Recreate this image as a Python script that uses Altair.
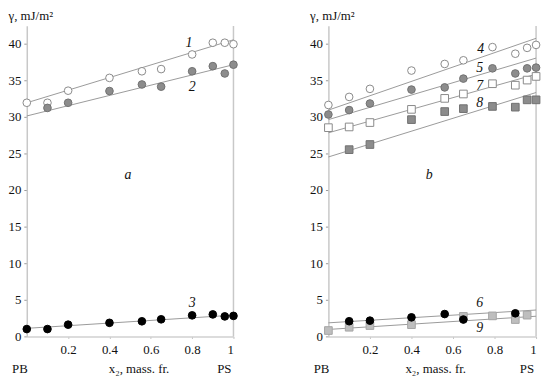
import altair as alt
import pandas as pd

# ---------------- data ----------------
xa = [0.0, 0.1, 0.2, 0.4, 0.557, 0.65, 0.8, 0.9, 0.958, 1.0]
s1 = [31.9, 31.9, 33.55, 35.3, 36.2, 36.5, 38.5, 40.1, 40.1, 39.9]
s2 = [None, 31.2, 31.9, 33.5, 34.4, 34.1, 36.2, 36.9, 35.9, 37.1]
s3 = [1.0, 1.0, 1.6, 1.85, 2.06, 2.33, 2.87, 3.0, 2.73, 2.8]

xb = [0.0, 0.1, 0.2, 0.4, 0.56, 0.65, 0.79, 0.9, 0.957, 1.0]
s4 = [31.6, 32.7, 33.8, 36.3, 37.2, 37.7, 39.5, 38.6, 39.4, 39.8]
s5 = [30.3, 30.9, 31.8, 33.7, 34.0, 35.2, 36.6, 35.9, 36.6, 36.7]
s7 = [28.5, 28.6, 29.2, 31.0, 32.5, 33.1, 34.5, 34.3, 35.0, 35.5]
s8 = [None, 25.5, 26.2, 29.6, 30.7, 31.1, 31.4, 31.3, 32.3, 32.3]
s6 = [None, 2.07, 2.15, 2.6, 3.05, 2.3, None, 3.15, None, None]
s9 = [0.8, 1.25, 1.48, 1.6, None, 2.73, 2.8, 2.3, 2.9, None]

# fitted straight lines: value at x2 = 0 and at x2 = 1
line_x = [0.0, 1.0]
l1 = [31.9, 40.5]
l2 = [30.1, 37.1]
l3 = [1.1, 2.9]
l4 = [30.9, 40.7]
l5 = [29.6, 38.0]
l7 = [27.8, 35.8]
l8 = [24.5, 33.3]
l6 = [1.85, 3.6]
l9 = [0.95, 2.75]

# curve numbers and panel letters: (text, x2, gamma)
labels_a = [("1", 0.785, 40.1), ("2", 0.80, 34.0), ("3", 0.80, 4.5), ("a", 0.49, 22.0)]
labels_b = [("4", 0.733, 39.2), ("5", 0.729, 36.6), ("7", 0.729, 34.2),
            ("8", 0.729, 31.9), ("6", 0.729, 4.5), ("9", 0.729, 1.2), ("b", 0.486, 22.0)]

x_ticks = [0.2, 0.4, 0.6, 0.8, 1.0]
y_ticks = [0, 5, 10, 15, 20, 25, 30, 35, 40]

FONT = "Liberation Serif"
FS = 13
W, H = 209, 314
YMAX = 42.4

LINE_COLOR = "#9a9a9a"


def pts(xs, ys):
    return pd.DataFrame([{"x": a, "y": b} for a, b in zip(xs, ys) if b is not None])


def xscale():
    return alt.Scale(domain=[0, 1], nice=False, zero=False)


def yscale():
    return alt.Scale(domain=[0, YMAX], nice=False)


def xaxis(title_x):
    return alt.Axis(values=x_ticks, format="~g", grid=False, title="x₂, mass. fr.",
                    titleFont=FONT, titleFontSize=FS, titleFontWeight="normal",
                    titleColor="#111", titleX=title_x, titleY=37,
                    titleBaseline="alphabetic", titleAnchor="start", titleAlign="center",
                    labelFont=FONT, labelFontSize=FS, labelColor="#111",
                    labelPadding=5, tickSize=2, tickColor="#bbb", labelOverlap=False,
                    domainColor="#d0d0d0", domainWidth=1.5)


def yaxis():
    return alt.Axis(values=y_ticks, grid=False, title="γ, mJ/m²",
                    titleFont=FONT, titleFontSize=FS, titleFontWeight="normal",
                    titleColor="#111", titleAngle=0, titleAlign="left",
                    titleBaseline="alphabetic", titleX=-19, titleY=-6,
                    labelFont=FONT, labelFontSize=FS, labelColor="#111",
                    labelPadding=3, tickSize=3, tickColor="#999", labelOverlap=False,
                    domainColor="#c8c8c8", domainWidth=1.5)


class Panel:
    def __init__(self, title_x):
        self.tx = title_x

    def X(self):
        return alt.X("x:Q", scale=xscale(), axis=xaxis(self.tx))

    def Y(self):
        return alt.Y("y:Q", scale=yscale(), axis=yaxis())

    def line(self, vals):
        return alt.Chart(pts(line_x, vals)).mark_line(color=LINE_COLOR, strokeWidth=1).encode(
            x=self.X(), y=self.Y())

    def points(self, xs, ys, shape, fill, stroke, size=60):
        return alt.Chart(pts(xs, ys)).mark_point(
            shape=shape, filled=True, fill=fill, stroke=stroke, strokeWidth=1, size=size, opacity=1
        ).encode(x=self.X(), y=self.Y())

    def labels(self, items):
        df = pd.DataFrame([{"t": t, "x": a, "y": b} for t, a, b in items])
        return alt.Chart(df).mark_text(font=FONT, fontSize=14, fontStyle="italic", color="#111").encode(
            x=self.X(), y=self.Y(), text="t:N")

    def frame(self):
        rule = alt.Chart(pd.DataFrame({"x": [1.0]})).mark_rule(color="#c8c8c8", strokeWidth=1.5).encode(
            x=self.X(),
            y=alt.datum(0, scale=yscale(), axis=yaxis()),
            y2=alt.datum(YMAX),
        )
        ends = pd.DataFrame({"t": ["PB", "PS"], "x": [0.0, 1.0]})
        pb = alt.Chart(ends.iloc[[0]]).mark_text(font=FONT, fontSize=FS, color="#111", align="right",
                                                 baseline="alphabetic", dx=1).encode(
            x=self.X(), y=alt.value(H + 37), text="t:N")
        ps = alt.Chart(ends.iloc[[1]]).mark_text(font=FONT, fontSize=FS, color="#111", align="right",
                                                 baseline="alphabetic", dx=-2).encode(
            x=self.X(), y=alt.value(H + 37), text="t:N")
        return [rule, pb, ps]


WHITE = "#ffffff"
GRAY = "#8c8c8c"
GRAY_EDGE = "#707070"
LIGHT = "#bebebe"
LIGHT_EDGE = "#a5a5a5"
OPEN_EDGE = "#8a8a8a"

pa = Panel(113)
panel_a = alt.layer(
    *pa.frame(),
    pa.line(l1), pa.line(l2), pa.line(l3),
    pa.points(xa, s1, "circle", WHITE, OPEN_EDGE),
    pa.points(xa, s2, "circle", GRAY, GRAY_EDGE),
    pa.points(xa, s3, "circle", "#000000", "#000000"),
    pa.labels(labels_a),
).properties(width=W, height=H)

pb_ = Panel(108)
panel_b = alt.layer(
    *pb_.frame(),
    pb_.line(l4), pb_.line(l5), pb_.line(l7), pb_.line(l8), pb_.line(l6), pb_.line(l9),
    pb_.points(xb, s4, "circle", WHITE, OPEN_EDGE),
    pb_.points(xb, s5, "circle", GRAY, GRAY_EDGE),
    pb_.points(xb, s7, "square", WHITE, OPEN_EDGE),
    pb_.points(xb, s8, "square", GRAY, GRAY_EDGE),
    pb_.points(xb, s9, "square", LIGHT, LIGHT_EDGE),
    pb_.points(xb, s6, "circle", "#000000", "#000000"),
    pb_.labels(labels_b),
).properties(width=W + 1, height=H)

chart = alt.hconcat(panel_a, panel_b, spacing=71).properties(
    padding={"left": 0, "top": 0, "right": 0, "bottom": 0}
).configure_view(stroke=None).resolve_scale(x="independent", y="independent")

chart.save("out.html", embed_options={"renderer": "svg", "actions": False})
